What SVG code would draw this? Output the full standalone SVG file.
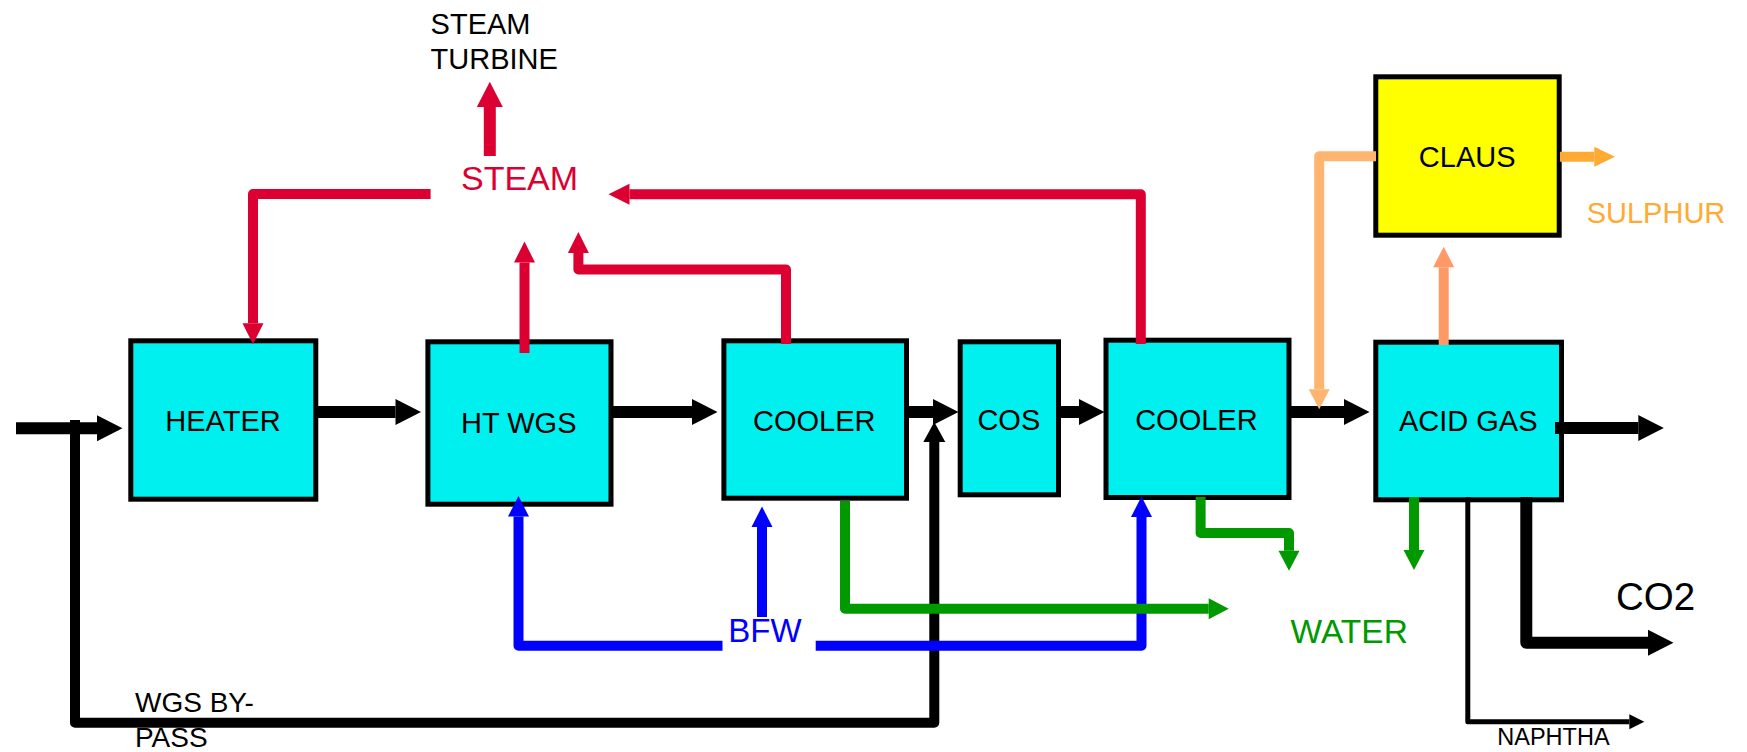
<svg xmlns="http://www.w3.org/2000/svg" width="1747" height="752" viewBox="0 0 1747 752">
<style>
.box{fill:#00F0F0;stroke:#000;stroke-width:5}
.claus{fill:#FFFF00;stroke:#000;stroke-width:5}
.lbl{font-family:"Liberation Sans",Arial,sans-serif;font-size:29px;fill:#000}
.mid{text-anchor:middle}
.ln{fill:none;stroke-linejoin:round;stroke-linecap:butt}
.blk{stroke:#000;stroke-width:12}
.blkm{stroke:#000;stroke-width:10}
.thin{stroke:#000;stroke-width:5}
.red{stroke:#DC0032;stroke-width:10}
.redb{stroke:#DC0032;stroke-width:12}
.blu{stroke:#0000FF;stroke-width:10}
.grn{stroke:#009900;stroke-width:10}
.org{stroke:#FFB570;stroke-width:10}
.sal{stroke:#FF9966;stroke-width:10}
.sul{stroke:#FFAA33;stroke-width:10}
</style>
<defs>
<marker id="hBlk" markerUnits="userSpaceOnUse" markerWidth="26" markerHeight="26" refX="0" refY="13" orient="auto" overflow="visible"><path d="M0,0 L25.5,13 L0,26 z" fill="#000"/></marker>
<marker id="hBlkS" markerUnits="userSpaceOnUse" markerWidth="20" markerHeight="22" refX="0" refY="11" orient="auto" overflow="visible"><path d="M0,0 L20,11 L0,22 z" fill="#000"/></marker>
<marker id="hThin" markerUnits="userSpaceOnUse" markerWidth="15" markerHeight="15" refX="0" refY="7.5" orient="auto" overflow="visible"><path d="M0,0 L15,7.5 L0,15 z" fill="#000"/></marker>
<marker id="hRedB" markerUnits="userSpaceOnUse" markerWidth="26" markerHeight="26" refX="0" refY="13" orient="auto" overflow="visible"><path d="M0,0 L25.3,13 L0,26 z" fill="#DC0032"/></marker>
<marker id="hRed" markerUnits="userSpaceOnUse" markerWidth="21" markerHeight="21" refX="0" refY="10.5" orient="auto" overflow="visible"><path d="M0,0 L21,10.5 L0,21 z" fill="#DC0032"/></marker>
<marker id="hBlu" markerUnits="userSpaceOnUse" markerWidth="21" markerHeight="21" refX="0" refY="10.5" orient="auto" overflow="visible"><path d="M0,0 L20.5,10.5 L0,21 z" fill="#0000FF"/></marker>
<marker id="hGrn" markerUnits="userSpaceOnUse" markerWidth="21" markerHeight="21" refX="0" refY="10.5" orient="auto" overflow="visible"><path d="M0,0 L20,10.5 L0,21 z" fill="#009900"/></marker>
<marker id="hOrg" markerUnits="userSpaceOnUse" markerWidth="21" markerHeight="21" refX="0" refY="10.5" orient="auto" overflow="visible"><path d="M0,0 L20,10.5 L0,21 z" fill="#FFB570"/></marker>
<marker id="hSal" markerUnits="userSpaceOnUse" markerWidth="21" markerHeight="21" refX="0" refY="10.5" orient="auto" overflow="visible"><path d="M0,0 L20.6,10.5 L0,21 z" fill="#FF9966"/></marker>
<marker id="hSul" markerUnits="userSpaceOnUse" markerWidth="21" markerHeight="20" refX="0" refY="10" orient="auto" overflow="visible"><path d="M0,0 L20.7,10 L0,20 z" fill="#FFAA33"/></marker>
</defs>

<g id="heater"><rect class="box" x="130.8" y="340.8" width="185" height="158.4"/><text class="lbl mid" x="223" y="430.7">HEATER</text></g>
<g id="htwgs"><rect class="box" x="427.9" y="341.8" width="183.1" height="162.4"/><text class="lbl mid" x="518.8" y="433.3">HT WGS</text></g>
<g id="cooler1"><rect class="box" x="723.9" y="340.8" width="182.6" height="157.4"/><text class="lbl mid" x="814.3" y="430.7">COOLER</text></g>
<g id="cos"><rect class="box" x="960.2" y="341.8" width="98.3" height="153"/><text class="lbl mid" x="1008.8" y="430">COS</text></g>
<g id="cooler2"><rect class="box" x="1106" y="340.2" width="183" height="157.3"/><text class="lbl mid" x="1196.4" y="430">COOLER</text></g>
<g id="acidgas"><rect class="box" x="1375.8" y="342.2" width="185.7" height="157.6"/><text class="lbl mid" x="1468.2" y="431">ACID GAS</text></g>
<g id="claus"><rect class="claus" x="1375.8" y="76.8" width="183.4" height="158.4"/><text class="lbl mid" x="1467.2" y="166.7">CLAUS</text></g>

<g id="connectors">
<path class="ln blk" d="M16,428.3 H97" marker-end="url(#hBlk)"/>
<path class="ln blkm" d="M75,420 V722.7 H934.3 V442" marker-end="url(#hBlkS)"/>
<path class="ln blk" d="M316,412 H395.5" marker-end="url(#hBlk)"/>
<path class="ln blk" d="M611,412 H692" marker-end="url(#hBlk)"/>
<path class="ln blk" d="M906,412 H933" marker-end="url(#hBlk)"/>
<path class="ln blk" d="M1058,412 H1079" marker-end="url(#hBlk)"/>
<path class="ln blk" d="M1289,412 H1344" marker-end="url(#hBlk)"/>
<path class="ln blk" d="M1555,428 H1638.3" marker-end="url(#hBlk)"/>
<path class="ln blk" d="M1526.3,497 V642.7 H1648" marker-end="url(#hBlk)"/>
<path class="ln thin" d="M1467.8,497 V721.7 H1629.3" marker-end="url(#hThin)"/>

<path class="ln redb" d="M489.8,156 V107" marker-end="url(#hRedB)"/>
<path class="ln red" d="M430.6,194 H253 V323.3" marker-end="url(#hRed)"/>
<path class="ln red" d="M524.5,353 V262.5" marker-end="url(#hRed)"/>
<path class="ln red" d="M786,344 V269.5 H578.4 V253" marker-end="url(#hRed)"/>
<path class="ln red" d="M1140.8,344 V194.3 H629.5" marker-end="url(#hRed)"/>

<path class="ln blu" d="M722.5,645.8 H518.5 V516.5" marker-end="url(#hBlu)"/>
<path class="ln blu" d="M762,617 V527" marker-end="url(#hBlu)"/>
<path class="ln blu" d="M815.7,645.8 H1141.5 V517" marker-end="url(#hBlu)"/>

<path class="ln grn" d="M845,501 V608.7 H1208.7" marker-end="url(#hGrn)"/>
<path class="ln grn" d="M1200.6,497 V533 H1289 V550.7" marker-end="url(#hGrn)"/>
<path class="ln grn" d="M1414,497 V550" marker-end="url(#hGrn)"/>

<path class="ln org" d="M1376,156.3 H1319.2 V389.3" marker-end="url(#hOrg)"/>
<path class="ln sal" d="M1443.7,345 V267.3" marker-end="url(#hSal)"/>
<path class="ln sul" d="M1560,156.7 H1594.3" marker-end="url(#hSul)"/>
</g>

<g id="labels">
<text class="lbl" x="430.6" y="34.3">STEAM</text>
<text class="lbl" x="430.6" y="69">TURBINE</text>
<text class="lbl" x="461" y="190" style="font-size:34px;fill:#DC0032">STEAM</text>
<text class="lbl" x="728.3" y="642.3" style="font-size:33px;fill:#0000FF">BFW</text>
<text class="lbl" x="1290.6" y="642.7" style="font-size:33.5px;fill:#009900">WATER</text>
<text class="lbl" x="1586.7" y="223.3" style="fill:#FFAA33">SULPHUR</text>
<text class="lbl" x="1616" y="610" style="font-size:38.5px">CO2</text>
<text class="lbl" x="135" y="711.7" style="font-size:28px">WGS BY-</text>
<text class="lbl" x="135" y="746.7" style="font-size:28px">PASS</text>
<text class="lbl" x="1497.3" y="745" style="font-size:23.5px">NAPHTHA</text>
</g>
</svg>
